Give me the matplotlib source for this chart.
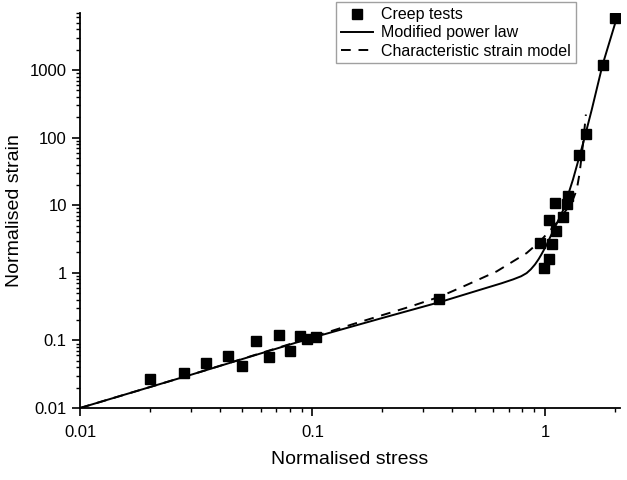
import matplotlib.pyplot as plt
import numpy as np
from matplotlib.ticker import LogLocator, NullFormatter

plt.rcParams['font.family'] = ['Liberation Sans', 'DejaVu Sans']

# creep test points (normalised stress, normalised strain)
test_stress = [0.020, 0.028, 0.035, 0.0432, 0.050, 0.057, 0.065, 0.072, 0.080, 0.088,
               0.095, 0.1035, 0.35, 0.952, 0.993, 1.04, 1.04, 1.07, 1.107, 1.115,
               1.20, 1.25, 1.26, 1.40, 1.50, 1.77, 2.00]
test_strain = [0.0266, 0.0333, 0.047, 0.058, 0.042, 0.098, 0.056, 0.12, 0.069, 0.117,
               0.104, 0.113, 0.41, 2.75, 1.17, 1.6, 5.96, 2.66, 10.7, 4.2,
               6.7, 10.5, 13.8, 55, 115, 1200, 5930]

# modified power law curve
power_stress = [0.01, 0.03, 0.1, 0.2, 0.354, 0.525, 0.65, 0.73, 0.79, 0.834, 0.87, 0.906,
                0.94, 0.968, 1.017, 1.05, 1.1, 1.2, 1.32, 1.46, 1.59, 1.77, 2.0]
power_strain = [0.01, 0.031, 0.11, 0.215, 0.37, 0.56, 0.7, 0.8, 0.89, 0.99, 1.13, 1.33,
                1.6, 1.9, 2.6, 3.3, 4.6, 8.6, 24, 83, 260, 1200, 4800]

# characteristic strain model curve
char_stress = [0.01, 0.03, 0.1, 0.15, 0.263, 0.354, 0.46, 0.62, 0.834, 0.95, 1.1,
               1.25, 1.33, 1.37, 1.41, 1.46, 1.5]
char_strain = [0.01, 0.031, 0.112, 0.175, 0.316, 0.445, 0.66, 1.05, 1.96, 2.9, 5.0,
               9.0, 13, 17, 30, 84, 220]


def main():
    fig = plt.figure(figsize=(6.27, 4.8), dpi=100)
    ax = fig.add_axes([0.1276, 0.15, 0.861, 0.823])

    ax.plot(test_stress, test_strain, 's', color='black', markersize=7, label='Creep tests')
    ax.plot(power_stress, power_strain, '-', color='black', linewidth=1.4, label='Modified power law')
    ax.plot(char_stress, char_strain, '--', color='black', linewidth=1.4, dashes=(5, 4),
            label='Characteristic strain model')

    ax.set_xscale('log')
    ax.set_yscale('log')
    ax.set_xlim(0.01, 2.1)
    ax.set_ylim(0.01, 7000)

    ax.set_xticks([0.01, 0.1, 1], ['0.01', '0.1', '1'])
    ax.set_yticks([0.01, 0.1, 1, 10, 100, 1000], ['0.01', '0.1', '1', '10', '100', '1000'])
    ax.xaxis.set_minor_locator(LogLocator(base=10, subs=np.arange(2, 10)))
    ax.yaxis.set_minor_locator(LogLocator(base=10, subs=np.arange(2, 10)))
    ax.xaxis.set_minor_formatter(NullFormatter())
    ax.yaxis.set_minor_formatter(NullFormatter())

    ax.spines['top'].set_visible(False)
    ax.spines['right'].set_visible(False)
    ax.spines['left'].set_linewidth(1.3)
    ax.spines['bottom'].set_linewidth(1.3)
    ax.tick_params(which='major', direction='out', length=6, width=1.2, labelsize=12, colors='black')
    ax.tick_params(which='minor', direction='out', length=3, width=1.0)
    ax.tick_params(axis='x', pad=6)

    ax.set_xlabel('Normalised stress', fontsize=14, labelpad=8)
    ax.set_ylabel('Normalised strain', fontsize=14, labelpad=5)

    leg = ax.legend(loc='upper right', bbox_to_anchor=(0.918, 0.995), bbox_transform=fig.transFigure,
                    fontsize=11.5, frameon=True, fancybox=False, edgecolor='#888888',
                    handlelength=2.0, handletextpad=0.5, borderpad=0.3, labelspacing=0.2,
                    borderaxespad=0)
    leg.get_frame().set_linewidth(1.0)

    fig.savefig('out.png', dpi=100)


if __name__ == "__main__":
    main()
